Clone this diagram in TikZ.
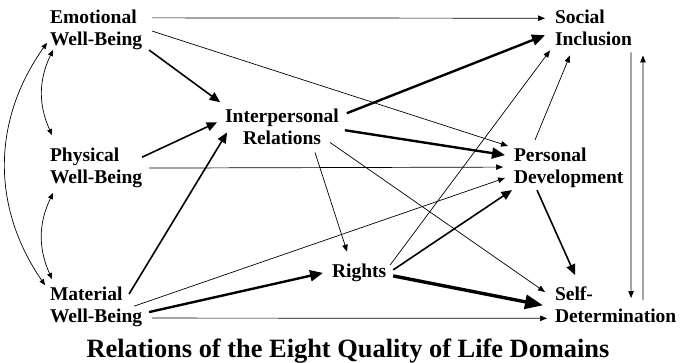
\documentclass[tikz,border=0pt]{standalone}
\usepackage{fontspec}
\setmainfont{Liberation Serif}
\usetikzlibrary{arrows.meta}

\begin{document}
\begin{tikzpicture}[x=1pt, y=-1pt,
    qol/.style={font=\fontsize{19.5}{22.5}\selectfont\bfseries, inner sep=0pt, outer sep=0pt},
    rel/.style={line width=0.7pt, -{Triangle[length=7pt,width=5.5pt]}},
    relmid/.style={line width=1.6pt, -{Triangle[length=10.5pt,width=9pt]}},
    relbold/.style={line width=2.4pt, -{Triangle[length=13pt,width=11pt]}},
    relheavy/.style={line width=3.4pt, -{Triangle[length=18pt,width=14pt]}},
    link/.style={line width=0.7pt, {Triangle[length=6pt,width=5pt]}-{Triangle[length=6pt,width=5pt]}}]

    \useasboundingbox (0,0) rectangle (683,362);

    % domains
    \node[qol, anchor=north west, align=left] (emo) at (50, 9.7) {Emotional\\Well-Being};
    \node[qol, anchor=north west, align=left] (phy) at (50, 147.7) {Physical\\Well-Being};
    \node[qol, anchor=north west, align=left] (mat) at (50, 286.7) {Material\\Well-Being};
    \node[qol, anchor=north, align=center] (inter) at (282, 108.7) {Interpersonal\\Relations};
    \node[qol, anchor=base west] (rig) at (332, 277) {Rights};
    \node[qol, anchor=north west, align=left] (soc) at (555, 9.7) {Social\\Inclusion};
    \node[qol, anchor=north west, align=left] (pd) at (514, 147.7) {Personal\\Development};
    \node[qol, anchor=north west, align=left] (sd) at (555, 286.7) {Self-\\Determination};

    \node[font=\fontsize{26.4}{30}\selectfont\bfseries, anchor=base] (title) at (348, 357) {Relations of the Eight Quality of Life Domains};

    % well-being domains among themselves
    \draw[link] ([shift={(3,0)}]emo.south west) to[bend right=25] ([shift={(2,-12.7)}]phy.north west);
    \draw[link] ([shift={(3,5)}]phy.south west) to[bend right=25] ([shift={(2,-7.7)}]mat.north west);
    \draw[link] ([shift={(-3,13)}]emo.west) to[bend right=35] ([shift={(-5,-21.7)}]mat.west);

    % emotional well-being
    \draw[rel] ([shift={(10,-12)}]emo.east) -- ([shift={(-10,-9.6)}]soc.west);
    \draw[rel] ([shift={(10,1.2)}]emo.east) -- ([shift={(-6,-1.7)}]pd.north west);
    \draw[relmid] ([shift={(7,0)}]emo.south east) -- ([shift={(-5,-24.6)}]inter.west);

    % physical well-being
    \draw[relmid] ([shift={(0,-10.7)}]phy.east) -- ([shift={(-8,-4.6)}]inter.west);
    \draw[rel] ([shift={(7,0.2)}]phy.east) -- ([shift={(-11,-0.7)}]pd.west);

    % material well-being
    \draw[relmid] ([shift={(-13,7.3)}]mat.north east) -- ([shift={(2,-12.5)}]inter.south west);
    \draw[rel] ([shift={(-8,-0.7)}]mat.east) -- ([shift={(-9,10.2)}]pd.west);
    \draw[relbold] ([shift={(7,5.2)}]mat.east) -- ([shift={(-9,0.5)}]rig.west);
    \draw[rel] ([shift={(10,11.2)}]mat.east) -- ([shift={(-8,13.4)}]sd.west);

    % interpersonal relations
    \draw[relbold] ([shift={(8,-13.6)}]inter.east) -- ([shift={(-10,7.4)}]soc.west);
    \draw[relbold] ([shift={(6,3.4)}]inter.east) -- ([shift={(-9,-12.7)}]pd.west);
    \draw[rel] ([shift={(33,7.5)}]inter.south) -- ([shift={(-12,-11.8)}]rig.north);
    \draw[rel] ([shift={(48,-2.5)}]inter.south) -- ([shift={(-10,5.3)}]sd.north west);

    % rights
    \draw[rel] ([shift={(4,-7.5)}]rig.east) -- ([shift={(-5,4.5)}]soc.south west);
    \draw[relmid] ([shift={(7,-2.5)}]rig.east) -- ([shift={(-2,2.2)}]pd.south west);
    \draw[relheavy] ([shift={(7,3.5)}]rig.east) -- ([shift={(-12,0.4)}]sd.west);

    % personal development
    \draw[rel] ([shift={(-33.7,-7.7)}]pd.north) -- ([shift={(-23.5,9.5)}]soc.south);
    \draw[relmid] ([shift={(-31.7,2.2)}]pd.south) -- ([shift={(-40.6,-11.7)}]sd.north);

    % social inclusion and self-determination
    \draw[rel] ([shift={(-1,6.5)}]soc.south east) -- ([shift={(15.4,11.3)}]sd.north);
    \draw[rel] ([shift={(27.4,13.3)}]sd.north) -- ([shift={(11,9.5)}]soc.south east);

\end{tikzpicture}
\end{document}
